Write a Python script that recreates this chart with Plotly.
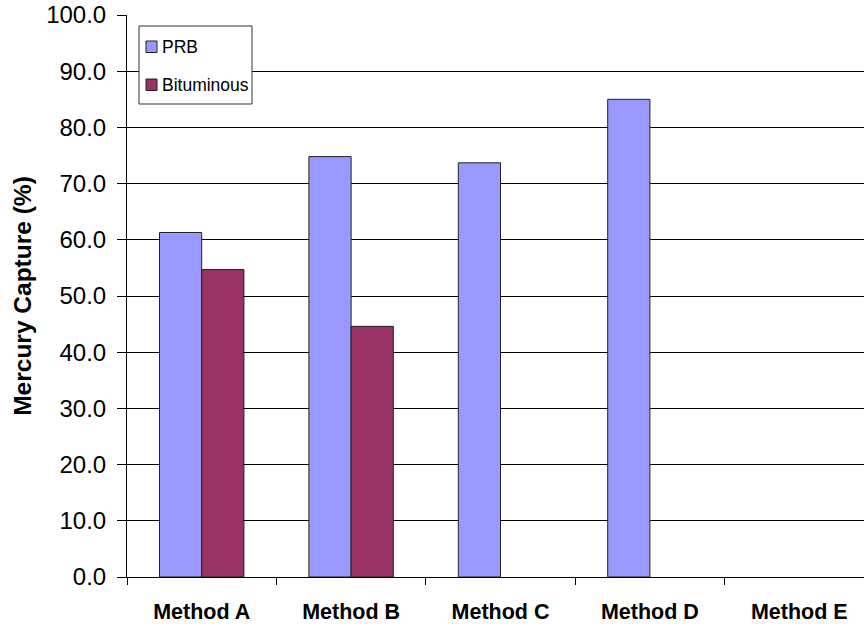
import plotly.graph_objects as go

categories = ["Method A", "Method B", "Method C", "Method D", "Method E"]
prb = [61.3, 74.8, 73.7, 85.0, None]
bituminous = [54.7, 44.6, None, None, None]
y_ticks = [0, 10, 20, 30, 40, 50, 60, 70, 80, 90, 100]
y_tick_labels = [f"{v:.1f}" for v in y_ticks]
series_names = ["PRB", "Bituminous"]
series_colors = ["#9999FF", "#993366"]

FONT = "Liberation Sans, Arial, sans-serif"

# plot area geometry (pixels) used to place the legend box
W, H = 864, 624
ML, MR, MT, MB = 127, 0, 15, 47
PW, PH = W - ML - MR, H - MT - MB


def px(x):
    return (x - ML) / PW


def py(y):
    return 1 - (y - MT) / PH


fig = go.Figure()
for name, vals, col in zip(series_names, [prb, bituminous], series_colors):
    fig.add_trace(go.Bar(x=categories, y=vals, name=name,
                         marker=dict(color=col, line=dict(color="#222222", width=1))))

shapes = [dict(type="rect", xref="paper", yref="paper",
               x0=px(139), x1=px(252), y0=py(104), y1=py(26),
               fillcolor="white", line=dict(color="#333333", width=1), layer="above")]
annotations = []
swatch_y = [41, 79]
for name, col, sy in zip(series_names, series_colors, swatch_y):
    shapes.append(dict(type="rect", xref="paper", yref="paper",
                       x0=px(146), x1=px(157), y0=py(sy + 11.5), y1=py(sy),
                       fillcolor=col, line=dict(color="#222222", width=1), layer="above"))
    annotations.append(dict(xref="paper", yref="paper", x=px(160), y=py(sy + 6),
                            xanchor="left", yanchor="middle", showarrow=False,
                            text=name, font=dict(size=17.5, family=FONT, color="black")))

fig.update_layout(
    width=W, height=H,
    margin=dict(l=ML, r=MR, t=MT, b=MB),
    paper_bgcolor="white", plot_bgcolor="white",
    font=dict(family=FONT, color="black"),
    barmode="group", bargap=0.435, bargroupgap=0,
    showlegend=False,
    shapes=shapes, annotations=annotations,
)
fig.update_xaxes(
    range=[-0.5, 4.433], showline=True, linecolor="black", linewidth=1,
    ticks="outside", tickson="boundaries", ticklen=7, tickcolor="black",
    tickfont=dict(size=21.5, family=FONT, weight="bold"), ticklabelstandoff=15,
    showgrid=False, fixedrange=True, automargin=False,
)
fig.update_yaxes(
    range=[0, 100], tickvals=y_ticks, ticktext=y_tick_labels,
    showline=True, linecolor="black", linewidth=1,
    ticks="outside", ticklen=9, tickcolor="black",
    tickfont=dict(size=24, family=FONT), ticklabelstandoff=6,
    showgrid=True, gridcolor="black", gridwidth=1,
    zeroline=False, automargin=False, fixedrange=True,
    title=dict(text="<b>Mercury Capture (%)</b>", font=dict(size=24.5, family=FONT), standoff=7),
)

fig.write_html("out.html",
               config={"displayModeBar": False},
               post_script="document.body.style.margin='0';document.body.style.overflow='hidden';")
